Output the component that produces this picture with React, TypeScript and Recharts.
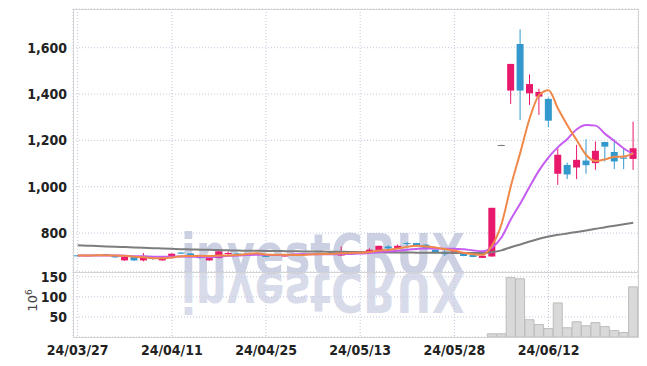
import { Bar, CartesianGrid, ComposedChart, Line, XAxis, YAxis } from "recharts";

const DATES = [
  "24/03/27", "24/03/28", "24/03/29", "24/04/01", "24/04/02", "24/04/03", "24/04/04", "24/04/05", "24/04/08", "24/04/09",
  "24/04/11", "24/04/12", "24/04/15", "24/04/16", "24/04/17", "24/04/18", "24/04/19", "24/04/22", "24/04/23", "24/04/24",
  "24/04/25", "24/04/26", "24/04/29", "24/04/30", "24/05/02", "24/05/03", "24/05/07", "24/05/08", "24/05/09", "24/05/10",
  "24/05/13", "24/05/14", "24/05/16", "24/05/17", "24/05/20", "24/05/21", "24/05/22", "24/05/23", "24/05/24", "24/05/27",
  "24/05/28", "24/05/29", "24/05/30", "24/05/31", "24/06/03", "24/06/04", "24/06/05", "24/06/07", "24/06/10", "24/06/11",
  "24/06/12", "24/06/13", "24/06/14", "24/06/17", "24/06/18", "24/06/19", "24/06/20", "24/06/21", "24/06/24", "24/06/25",
];

const OPEN = [
  704, 703, 702, 709, 702, 682, 697, 682, 692, 682,
  692, 716, 712, 699, 682, 692, 712, 712, 710, 710,
  706, 705, 699, 709, 710, 709, 707, 719, 703, 721,
  713, 716, 714, 742, 732, 757, 757, 750, 728, 719,
  711, 711, 705, 693, 699, 1180, 1415, 1616, 1403, 1389,
  1379, 1056, 1094, 1083, 1113, 1102, 1193, 1150, 1126, 1120,
];
const HIGH = [
  706, 705, 707, 710, 703, 698, 698, 714, 695, 696,
  712, 717, 713, 700, 693, 727, 721, 714, 712, 711,
  707, 708, 707, 711, 711, 711, 715, 720, 742, 722,
  715, 734, 746, 747, 751, 761, 758, 752, 729, 725,
  722, 712, 706, 703, 909, 1181, 1530, 1679, 1485, 1423,
  1385, 1166, 1104, 1181, 1205, 1195, 1194, 1205, 1166, 1281,
];
const LOW = [
  700, 702, 701, 706, 694, 681, 680, 678, 685, 681,
  691, 710, 698, 688, 681, 691, 699, 705, 708, 708,
  696, 704, 698, 708, 708, 708, 706, 710, 702, 715,
  712, 715, 713, 728, 731, 745, 741, 729, 713, 702,
  710, 700, 696, 692, 698, 1180, 1357, 1288, 1353, 1310,
  1257, 1008, 1033, 1033, 1056, 1073, 1109, 1076, 1076, 1073,
];
const CLOSE = [
  702, 704, 706, 707, 695, 697, 682, 697, 688, 695,
  711, 711, 699, 692, 692, 721, 714, 708, 711, 709,
  697, 707, 706, 710, 709, 710, 714, 711, 721, 716,
  714, 728, 745, 734, 745, 753, 747, 731, 714, 709,
  721, 701, 697, 702, 909, 1180, 1530, 1415, 1443, 1409,
  1285, 1138, 1053, 1116, 1093, 1155, 1173, 1109, 1121, 1166,
];
// millions of shares
const VOLUME = [
  0, 0, 0, 0, 0, 0, 0, 0, 0, 0,
  0, 0, 0, 0, 0, 0, 0, 0, 0, 0,
  0, 0, 0, 0, 0, 0, 0, 0, 0, 0,
  0, 0, 0, 0, 0, 0, 0, 0, 0, 0,
  0, 0, 0, 0, 8, 8, 148, 145, 43, 31,
  21, 85, 23, 38, 28, 36, 26, 16, 11, 125,
];
const MA5 = [
  703, 703, 704, 704.4, 702.8, 701.8, 697.4, 695.6, 691.8, 691.8,
  694.6, 700.4, 700.8, 701.6, 701, 703, 703.6, 705.4, 709.2, 712.6,
  707.8, 706.4, 706, 705.8, 705.8, 708.4, 709.8, 710.8, 713, 714.4,
  715.2, 718, 724.8, 727.4, 733.2, 741, 744.8, 742, 738, 730.8,
  724.4, 715.2, 708.4, 706, 746, 837.8, 1003.6, 1147.2, 1295.4, 1395.4,
  1416.4, 1338, 1265.6, 1200.2, 1137, 1111, 1118, 1129.2, 1130.2, 1144.8,
];
const MA10 = [
  703, 703, 703.3, 703.7, 702.9, 702.3, 700.2, 699.6, 698.1, 697.3,
  698.2, 698.9, 698.2, 696.7, 696.4, 698.8, 702, 703.1, 705.4, 706.8,
  705.4, 705, 705.7, 707.5, 709.2, 708.1, 708.1, 708.4, 709.4, 710.1,
  711.8, 713.9, 717.8, 720.2, 723.8, 728.1, 731.4, 733.4, 732.7, 732,
  732.7, 730, 725.2, 722, 738.4, 781.1, 859.4, 927.8, 1000.7, 1070.7,
  1127.1, 1170.8, 1206.4, 1247.8, 1266.2, 1263.7, 1228, 1197.4, 1165.2, 1140.9,
];
const MA60 = [
  747, 745.5, 744, 742.5, 741, 739.5, 738, 736.5, 735, 733.5,
  732, 730.5, 729.5, 728.5, 727.5, 726.5, 725.5, 724.5, 724, 723.5,
  723, 722.5, 722, 721.5, 721, 720.5, 720, 719.5, 719, 718.5,
  718, 717.5, 717, 716.5, 716, 715.8, 715.5, 715.2, 715, 714.8,
  714.5, 714.2, 714, 713.8, 717.3, 725.3, 739.1, 751, 763.4, 775.2,
  785, 792.3, 798.2, 805.1, 811.5, 818.4, 825.6, 831.7, 838, 845,
];

const DATE_TICKS = ["24/03/27", "24/04/11", "24/04/25", "24/05/13", "24/05/28", "24/06/12"];
const PRICE_TICKS = [800, 1000, 1200, 1400, 1600];
const VOLUME_TICKS = [50, 100, 150];

const rows = DATES.map((date, i) => ({
  date,
  open: OPEN[i],
  high: HIGH[i],
  low: LOW[i],
  close: CLOSE[i],
  vol: VOLUME[i],
  ma5: MA5[i],
  ma10: MA10[i],
  ma60: MA60[i],
}));

const UP = "#e8186b";
const DOWN = "#3399cc";
const FLAT = "#777777";
const GRID = "#c3c8dd";
const FRAME = "#d3d3d3";
const MARK = "#cbd0e3";
const TICK_FONT = "'Liberation Sans Narrow', 'DejaVu Sans Condensed', sans-serif";
const tickStyle = { fill: "#222", fontSize: 14, fontFamily: TICK_FONT, fontWeight: 700 };

function Candle(props: any) {
  const { x, y, width, height, payload } = props;
  if (!payload) return null;
  const { open, close, high, low } = payload;
  const cx = x + width / 2;
  const top = Math.min(y, y + height);
  const h = Math.abs(height);
  const span = high - low;
  const py = (v: number) => (span > 0 ? top + ((high - v) / span) * h : top);
  const color = close > open ? UP : close < open ? DOWN : FLAT;
  const bodyTop = py(Math.max(open, close));
  const bodyH = Math.max(1, py(Math.min(open, close)) - bodyTop);
  const bw = 7;
  return (
    <g>
      <line x1={cx} x2={cx} y1={top} y2={top + h} stroke={color} strokeWidth={1} />
      <rect x={cx - bw / 2} y={bodyTop} width={bw} height={bodyH} fill={color} />
    </g>
  );
}

function VolumeUnit(props: any) {
  const vb = props.viewBox || { x: 0, y: 0, height: 0 };
  const cy = vb.y + vb.height / 2 - 4;
  return (
    <text
      transform={`translate(37, ${cy}) rotate(-90)`}
      textAnchor="middle"
      fill="#444"
      fontSize={13}
      fontFamily="'DejaVu Sans', sans-serif"
    >
      10
      <tspan dy={-5} fontSize={9}>
        6
      </tspan>
    </text>
  );
}

const fmtPrice = (v: number) => v.toLocaleString("en-US");

export default function App() {
  return (
    <div
      style={{
        position: "absolute",
        left: 0,
        top: 0,
        width: 647,
        height: 366,
        background: "#fff",
        overflow: "hidden",
      }}
    >
      {/* watermark + its mirror, behind both panes */}
      <svg width={647} height={366} style={{ position: "absolute", left: 0, top: 0 }}>
        <text
          x={181}
          y={273}
          fontSize={55}
          fontWeight={700}
          fontFamily="'DejaVu Sans', sans-serif"
          fill={MARK}
          textLength={284}
          lengthAdjust="spacingAndGlyphs"
        >
          investCRUX
        </text>
        <text
          x={181}
          y={273}
          transform="translate(0, 546) scale(1, -1)"
          fontSize={55}
          fontWeight={700}
          fontFamily="'DejaVu Sans', sans-serif"
          fill={MARK}
          opacity={0.75}
          textLength={284}
          lengthAdjust="spacingAndGlyphs"
        >
          investCRUX
        </text>
      </svg>

      <div style={{ position: "absolute", left: 0, top: 0 }}>
        <ComposedChart
          width={647}
          height={272}
          data={rows}
          margin={{ top: 9, right: 9, bottom: 0, left: 0 }}
          barCategoryGap={0}
        >
          <CartesianGrid stroke={GRID} strokeDasharray="1 2" />
          <XAxis dataKey="date" hide ticks={DATE_TICKS} interval={0} />
          <YAxis
            domain={[632, 1767]}
            allowDataOverflow
            ticks={PRICE_TICKS}
            interval={0}
            width={73}
            axisLine={false}
            tickLine={false}
            tickSize={0}
            tickMargin={6}
            tick={tickStyle}
            tickFormatter={fmtPrice}
          />
          <Bar dataKey={(d: any) => [d.low, d.high]} shape={<Candle />} isAnimationActive={false} />
          <Line type="monotone" dataKey="ma60" stroke="#7d7d7d" strokeWidth={2} dot={false} isAnimationActive={false} />
          <Line type="monotone" dataKey="ma10" stroke="#c65cf0" strokeWidth={2} dot={false} isAnimationActive={false} />
          <Line type="monotone" dataKey="ma5" stroke="#f0884a" strokeWidth={2} dot={false} isAnimationActive={false} />
        </ComposedChart>
      </div>

      <div style={{ position: "absolute", left: 0, top: 262 }}>
        <ComposedChart
          width={647}
          height={104}
          data={rows}
          margin={{ top: 10, right: 9, bottom: 0, left: 0 }}
          barCategoryGap={0}
        >
          <CartesianGrid stroke={GRID} strokeDasharray="1 2" />
          <XAxis
            dataKey="date"
            ticks={DATE_TICKS}
            interval={0}
            height={29}
            axisLine={false}
            tickLine={false}
            tickSize={0}
            tickMargin={8}
            tick={tickStyle}
          />
          <YAxis
            domain={[0, 162]}
            allowDataOverflow
            ticks={VOLUME_TICKS}
            interval={0}
            width={73}
            axisLine={false}
            tickLine={false}
            tickSize={0}
            tickMargin={6}
            tick={tickStyle}
            label={<VolumeUnit />}
          />
          <Bar dataKey="vol" fill="#d9d9d9" stroke="#bdbdbd" strokeWidth={1} isAnimationActive={false} />
        </ComposedChart>
      </div>

      <div
        style={{
          position: "absolute",
          left: 73,
          top: 9,
          width: 564,
          height: 327,
          border: `1px solid ${FRAME}`,
          pointerEvents: "none",
        }}
      />
      <div
        style={{
          position: "absolute",
          left: 73,
          top: 272,
          width: 565,
          height: 0,
          borderTop: `1px solid ${FRAME}`,
          pointerEvents: "none",
        }}
      />
    </div>
  );
}
